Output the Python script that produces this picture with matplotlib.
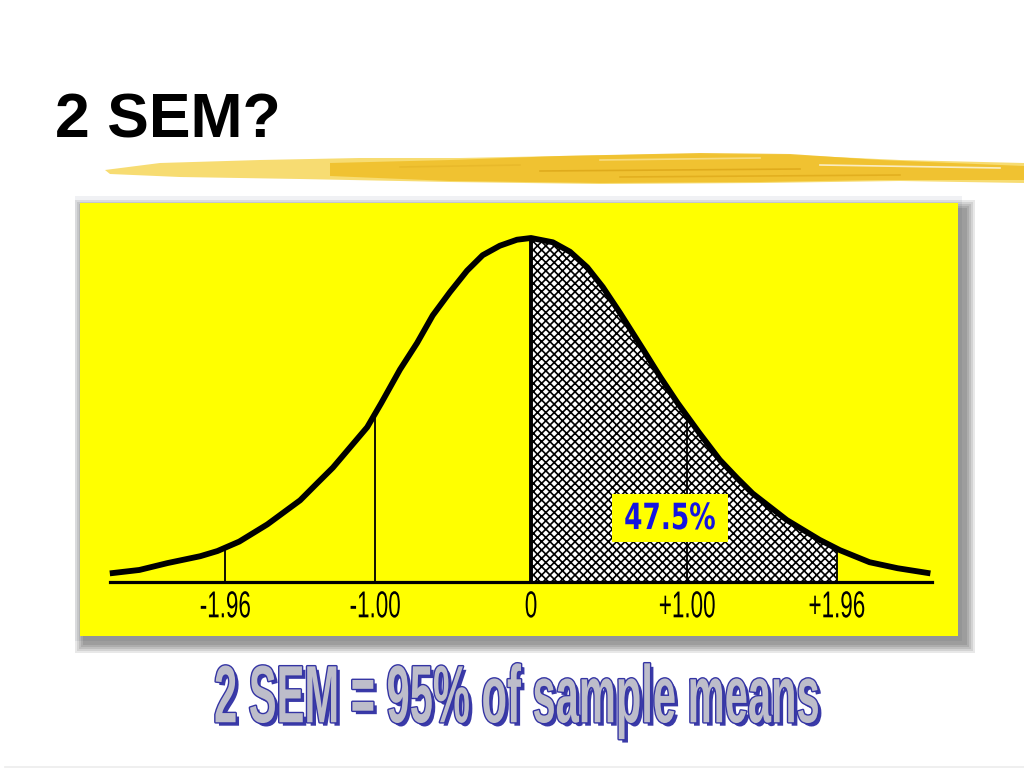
import numpy as np
import matplotlib
matplotlib.use("Agg")
import matplotlib.pyplot as plt
import matplotlib.patheffects as pe
from matplotlib.transforms import Affine2D
from matplotlib.patches import Rectangle, Polygon

# ---------------- data ----------------
curve_z = [-2.70, -2.51, -2.33, -2.12, -2.01, -1.87, -1.69, -1.48,
           -1.37, -1.27, -1.05, -0.96, -0.84, -0.73, -0.63, -0.52, -0.41, -0.31,
           -0.20, -0.09, 0.00, 0.14, 0.25, 0.36, 0.46, 0.57, 0.72, 0.83,
           0.94, 1.08, 1.21, 1.32, 1.42, 1.64, 1.85, 1.98, 2.17, 2.35, 2.56]
curve_d = [0.010, 0.014, 0.022, 0.030, 0.036, 0.047, 0.067, 0.095,
           0.115, 0.133, 0.180, 0.208, 0.247, 0.278, 0.310, 0.337, 0.362, 0.380,
           0.391, 0.398, 0.400, 0.395, 0.384, 0.366, 0.343, 0.313, 0.270, 0.238,
           0.208, 0.173, 0.142, 0.121, 0.103, 0.072, 0.049, 0.037, 0.023, 0.016, 0.010]
tick_vals = [-1.96, -1.00, 0.00, 1.00, 1.96]
tick_labels = ["-1.96", "-1.00", "0", "+1.00", "+1.96"]
shade_from, shade_to = 0.00, 1.96
shade_label = "47.5%"
title = "2 SEM?"
caption = "2 SEM = 95% of sample means"

plt.rcParams["font.family"] = ["Liberation Sans", "DejaVu Sans"]
plt.rcParams["hatch.linewidth"] = 1.2

W, H = 1024, 768
fig = plt.figure(figsize=(10.24, 7.68), dpi=100, facecolor="white")


def fx(px):
    return px / W


def fy(py):
    return 1 - py / H


class Squash(pe.AbstractPathEffect):
    """Scale the glyph outline around its own centre (condensed look)."""

    def __init__(self, sx=1.0, sy=1.0, inner=None):
        super().__init__()
        self.sx, self.sy = sx, sy
        self.inner = inner if inner is not None else [pe.Normal()]

    def draw_path(self, renderer, gc, tpath, affine, rgbFace=None):
        ext = tpath.get_extents(affine)
        cx = 0.5 * (ext.x0 + ext.x1)
        cy = 0.5 * (ext.y0 + ext.y1)
        t = affine + Affine2D().translate(-cx, -cy).scale(self.sx, self.sy).translate(cx, cy)
        for eff in self.inner:
            eff.draw_path(renderer, gc, tpath, t, rgbFace)


# ---------------- decoration: brush stroke ----------------
def poly(pts, **kw):
    p = Polygon([(fx(a), fy(b)) for a, b in pts], closed=True,
                transform=fig.transFigure, **kw)
    fig.add_artist(p)


poly([(105, 170), (160, 163), (260, 160), (360, 158), (460, 158), (560, 156),
      (680, 154), (790, 155), (900, 160), (1024, 163), (1024, 183), (900, 181),
      (760, 183), (600, 184), (450, 182), (300, 179), (180, 177), (110, 174)],
     facecolor="#f7dc72", edgecolor="none", zorder=1)
poly([(330, 163), (450, 160), (560, 156), (700, 153), (790, 154), (880, 160),
      (1024, 166), (1024, 180), (880, 180), (760, 182), (600, 183), (450, 181), (330, 176)],
     facecolor="#f0c02a", edgecolor="none", alpha=0.9, zorder=1.1)
for (x0, y0, x1, y1, c) in [(540, 171, 800, 169, "#d9a214"), (620, 177, 900, 175, "#dda818"),
                             (400, 167, 520, 165, "#e6b628"), (820, 165, 1000, 168, "#ffffff"),
                             (600, 160, 760, 158, "#fbe7a0")]:
    fig.add_artist(plt.Line2D([fx(x0), fx(x1)], [fy(y0), fy(y1)], color=c, lw=1.2,
                              alpha=0.7, transform=fig.transFigure, zorder=1.2))

# ---------------- title ----------------
fig.text(fx(55), fy(137), title, fontsize=45, fontweight="bold", color="black",
         ha="left", va="baseline", family="Liberation Sans")

# ---------------- panel frame and shadow ----------------
fig.add_artist(Rectangle((fx(75), fy(641)), fx(962 - 75), (641 - 196) / H,
                         transform=fig.transFigure, facecolor="#f0f1f4",
                         edgecolor="none", zorder=-3))
for b in [9, 7, 5, 3, 1]:
    fig.add_artist(Rectangle((fx(84 - b), fy(644 + b)), fx(966 - 84 + 2 * b),
                             (644 - 209 + 2 * b) / H, transform=fig.transFigure,
                             facecolor="black", alpha=0.09, edgecolor="none", zorder=-2))

# ---------------- chart ----------------
ax = fig.add_axes([fx(80), fy(636), fx(958 - 80), (636 - 203) / H], facecolor="#ffff00", zorder=0)
z = np.array(curve_z)
d = np.array(curve_d)
ax.set_xlim(-2.891, 2.737)
ax.set_ylim(-0.0628, 0.4407)

# shaded area 0 .. +1.96
inside = (z > shade_from) & (z < shade_to)
xs = np.concatenate([[shade_from], z[inside], [shade_to]])
ys = np.interp(xs, z, d)
ax.fill_between(xs, 0, ys, facecolor="white", edgecolor="black",
                hatch="xxxx", linewidth=0, zorder=2)

# vertical lines
tv = np.array(tick_vals)
tops = np.interp(tv, z, d)
widths = [1.3 if v != 0 else 2.8 for v in tick_vals]
ax.vlines(tv, 0, tops, colors="black", linewidths=widths, zorder=3)

# curve
ax.plot(z, d, color="black", lw=4.2, solid_joinstyle="round", solid_capstyle="butt", zorder=4)

# axis line and ticks
for s in ["top", "left", "right"]:
    ax.spines[s].set_visible(False)
ax.spines["bottom"].set_position(("data", 0))
ax.spines["bottom"].set_bounds(z.min(), z.max() + 0.01)
ax.spines["bottom"].set_linewidth(2.3)
ax.spines["bottom"].set_zorder(5)
ax.set_yticks([])
ax.set_xticks(tick_vals)
ax.set_xticklabels(tick_labels)
ax.tick_params(axis="x", length=0, pad=9, labelsize=19, labelcolor="black")
for lab in ax.get_xticklabels():
    lab.set_fontfamily("Liberation Sans")
    lab.set_path_effects([Squash(sx=0.85, sy=1.42)])

# 47.5% label
ax.text(0.891, 0.0744, shade_label, ha="center", va="center", fontsize=20,
        fontweight="bold", color="#1414e0", family="DejaVu Sans", zorder=6,
        bbox=dict(boxstyle="square,pad=0.35", facecolor="#ffff00", edgecolor="none"),
        path_effects=[Squash(sx=0.95, sy=1.3)])

# ---------------- caption ----------------
fig.text(fx(517), fy(701), caption, ha="center", va="center", fontsize=30,
         fontweight="bold", color="#bdbdca", family="Liberation Sans",
         path_effects=[Squash(sx=1.0, sy=1.95, inner=[
             pe.SimplePatchShadow(offset=(2.5, -2.5), shadow_rgbFace="#3a3aa8", alpha=1.0),
             pe.Stroke(linewidth=2.0, foreground="#3434a4"),
             pe.Normal()])])

# faint line at the bottom of the slide
fig.add_artist(plt.Line2D([fx(5), fx(1024)], [fy(766.5), fy(766.5)], color="#ececec",
                          lw=1.2, transform=fig.transFigure))

fig.savefig("out.png", dpi=100, facecolor="white")
